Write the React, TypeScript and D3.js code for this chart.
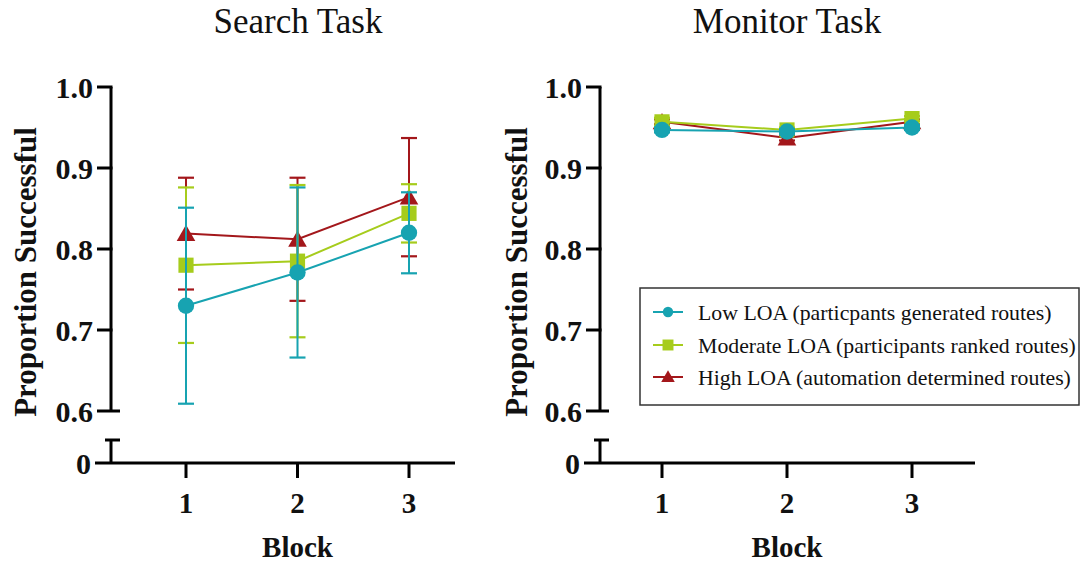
import React from "react";
import * as d3 from "d3";

const blocks = [1, 2, 3];
const yTicks = [0.6, 0.7, 0.8, 0.9, 1.0];
const seriesNames = [
  "Low LOA (particpants generated routes)",
  "Moderate LOA (participants ranked routes)",
  "High LOA (automation determined routes)",
];
const seriesColors = ["#17a3b1", "#a6cc1c", "#a3171b"];
const seriesShapes = ["circle", "square", "triangle"];

// Search task
const searchLow = [0.73, 0.771, 0.82];
const searchLowErr = [0.121, 0.105, 0.05];
const searchMod = [0.78, 0.785, 0.844];
const searchModErr = [0.096, 0.094, 0.036];
const searchHigh = [0.819, 0.812, 0.864];
const searchHighErr = [0.069, 0.076, 0.073];

// Monitor task
const monLow = [0.947, 0.945, 0.95];
const monLowErr = [0.003, 0.003, 0.003];
const monMod = [0.957, 0.947, 0.961];
const monModErr = [0.005, 0.003, 0.003];
const monHigh = [0.957, 0.937, 0.957];
const monHighErr = [0.003, 0.003, 0.003];

const FONT = "'Liberation Serif', 'Times New Roman', serif";

type Panel = {
  title: string;
  axisX: number;
  xRange: [number, number];
  xAxisEnd: number;
  values: number[][];
  errs: number[][];
  titleX: number;
  labelX: number;
};

const panels: Panel[] = [
  {
    title: "Search Task",
    axisX: 111,
    xRange: [186, 409],
    xAxisEnd: 455,
    values: [searchLow, searchMod, searchHigh],
    errs: [searchLowErr, searchModErr, searchHighErr],
    titleX: 298,
    labelX: 36,
  },
  {
    title: "Monitor Task",
    axisX: 600,
    xRange: [662, 912],
    xAxisEnd: 975,
    values: [monLow, monMod, monHigh],
    errs: [monLowErr, monModErr, monHighErr],
    titleX: 787,
    labelX: 527,
  },
];

const symbolFor = (s: string) =>
  s === "circle" ? d3.symbolCircle : s === "square" ? d3.symbolSquare : d3.symbolTriangle;
const sizeFor = (s: string, big: boolean) => {
  if (s === "circle") return big ? 210 : 85;
  if (s === "square") return big ? 230 : 120;
  return big ? 150 : 80;
};

function PanelView({ p }: { p: Panel }) {
  const y = d3.scaleLinear().domain([0.6, 1.0]).range([411, 87]);
  const x = d3.scaleLinear().domain([1, 3]).range(p.xRange);
  const yZero = 463;
  const yBreakTop = 440;
  const ax = p.axisX;
  const order = [2, 1, 0];
  const line = d3
    .line<number>()
    .x((_, i) => x(blocks[i]))
    .y((d) => y(d));
  return (
    <g>
      <text x={p.titleX} y={33} textAnchor="middle" fontFamily={FONT} fontSize={35} fill="#111">
        {p.title}
      </text>
      {/* y axis upper */}
      <line x1={ax} x2={ax} y1={y(1.0)} y2={y(0.6)} stroke="#000" strokeWidth={3} />
      {yTicks.map((t) => (
        <g key={t}>
          <line
            x1={ax - 14}
            x2={t === 0.6 ? ax + 9 : ax + 1.5}
            y1={y(t)}
            y2={y(t)}
            stroke="#000"
            strokeWidth={3}
          />
          <text
            x={ax - 18}
            y={y(t)}
            dy="0.35em"
            textAnchor="end"
            fontFamily={FONT}
            fontWeight="bold"
            fontSize={30}
            fill="#111"
          >
            {t.toFixed(1)}
          </text>
        </g>
      ))}
      {/* lower segment */}
      <line x1={ax} x2={ax} y1={yBreakTop} y2={yZero} stroke="#000" strokeWidth={3} />
      <line x1={ax - 6} x2={ax + 9} y1={yBreakTop} y2={yBreakTop} stroke="#000" strokeWidth={3} />
      <line x1={ax - 16} x2={p.xAxisEnd} y1={yZero} y2={yZero} stroke="#000" strokeWidth={3} />
      <text
        x={ax - 20}
        y={yZero}
        dy="0.35em"
        textAnchor="end"
        fontFamily={FONT}
        fontWeight="bold"
        fontSize={30}
        fill="#111"
      >
        0
      </text>
      {blocks.map((b) => (
        <g key={b}>
          <line x1={x(b)} x2={x(b)} y1={yZero} y2={yZero + 15} stroke="#000" strokeWidth={3} />
          <text
            x={x(b)}
            y={513}
            textAnchor="middle"
            fontFamily={FONT}
            fontWeight="bold"
            fontSize={29}
            fill="#111"
          >
            {b}
          </text>
        </g>
      ))}
      <text
        x={(p.xRange[0] + p.xRange[1]) / 2}
        y={557}
        textAnchor="middle"
        fontFamily={FONT}
        fontWeight="bold"
        fontSize={29}
        fill="#111"
      >
        Block
      </text>
      <text
        transform={`translate(${p.labelX},272) rotate(-90)`}
        textAnchor="middle"
        fontFamily={FONT}
        fontWeight="bold"
        fontSize={31}
        fill="#111"
      >
        Proportion Successful
      </text>
      {/* series */}
      {order.map((si) => {
        const vals = p.values[si];
        const errs = p.errs[si];
        const col = seriesColors[si];
        const sym = d3.symbol().type(symbolFor(seriesShapes[si])).size(sizeFor(seriesShapes[si], true))();
        return (
          <g key={si}>
            {vals.map((v, i) => {
              const cx = x(blocks[i]);
              const hi = y(v + errs[i]);
              const lo = y(v - errs[i]);
              return (
                <g key={i}>
                  <line x1={cx} x2={cx} y1={hi} y2={lo} stroke={col} strokeWidth={2} />
                  <line x1={cx - 8} x2={cx + 8} y1={hi} y2={hi} stroke={col} strokeWidth={2.2} />
                  <line x1={cx - 8} x2={cx + 8} y1={lo} y2={lo} stroke={col} strokeWidth={2.2} />
                </g>
              );
            })}
            <path d={line(vals) || ""} fill="none" stroke={col} strokeWidth={2} />
            {vals.map((v, i) => (
              <path
                key={i}
                d={sym || ""}
                transform={`translate(${x(blocks[i])},${y(v) + (seriesShapes[si] === "triangle" ? 2 : 0)})`}
                fill={col}
              />
            ))}
          </g>
        );
      })}
    </g>
  );
}

function Legend() {
  const rows = [312, 345, 377];
  return (
    <g>
      <rect x={640} y={288} width={439} height={117} fill="#fff" stroke="#333" strokeWidth={1.5} />
      {seriesNames.map((n, i) => {
        const sym = d3.symbol().type(symbolFor(seriesShapes[i])).size(sizeFor(seriesShapes[i], false))();
        return (
          <g key={n}>
            <line x1={653} x2={683} y1={rows[i]} y2={rows[i]} stroke={seriesColors[i]} strokeWidth={2} />
            <path
              d={sym || ""}
              transform={`translate(668,${rows[i] + (seriesShapes[i] === "triangle" ? 1 : 0)})`}
              fill={seriesColors[i]}
            />
            <text x={698} y={rows[i]} dy="0.35em" fontFamily={FONT} fontSize={21.8} fill="#111">
              {n}
            </text>
          </g>
        );
      })}
    </g>
  );
}

export default function App() {
  return (
    <svg
      width={1087}
      height={564}
      style={{ position: "absolute", left: 0, top: 0, background: "#fff" }}
    >
      <rect width={1087} height={564} fill="#fff" />
      {panels.map((p) => (
        <PanelView key={p.title} p={p} />
      ))}
      <Legend />
    </svg>
  );
}
